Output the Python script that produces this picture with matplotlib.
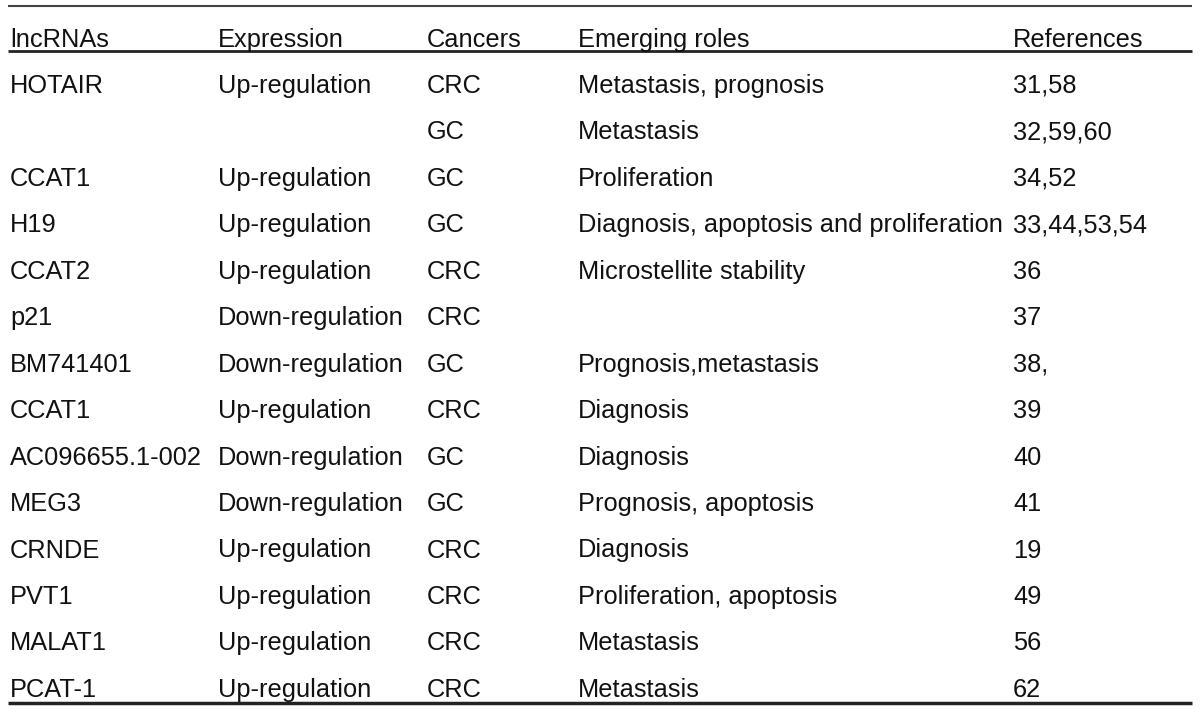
import matplotlib
matplotlib.use('Agg')
import matplotlib.pyplot as plt

plt.rcParams['font.family'] = ['Liberation Sans', 'DejaVu Sans']

headers = ['lncRNAs', 'Expression', 'Cancers', 'Emerging roles', 'References']
lncrnas = ['HOTAIR', '', 'CCAT1', 'H19', 'CCAT2', 'p21', 'BM741401', 'CCAT1',
           'AC096655.1-002', 'MEG3', 'CRNDE', 'PVT1', 'MALAT1', 'PCAT-1']
expression = ['Up-regulation', '', 'Up-regulation', 'Up-regulation', 'Up-regulation',
              'Down-regulation', 'Down-regulation', 'Up-regulation', 'Down-regulation',
              'Down-regulation', 'Up-regulation', 'Up-regulation', 'Up-regulation',
              'Up-regulation']
cancers = ['CRC', 'GC', 'GC', 'GC', 'CRC', 'CRC', 'GC', 'CRC', 'GC', 'GC',
           'CRC', 'CRC', 'CRC', 'CRC']
roles = ['Metastasis, prognosis', 'Metastasis', 'Proliferation',
         'Diagnosis, apoptosis and proliferation', 'Microstellite stability', '',
         'Prognosis,metastasis', 'Diagnosis', 'Diagnosis', 'Prognosis, apoptosis',
         'Diagnosis', 'Proliferation, apoptosis', 'Metastasis', 'Metastasis']
references = ['31,58', '32,59,60', '34,52', '33,44,53,54', '36', '37', '38,', '39',
              '40', '41', '19', '49', '56', '62']

W, H = 1200, 713
fig = plt.figure(figsize=(W / 100, H / 100), dpi=100)
ax = fig.add_axes([0, 0, 1, 1])
ax.set_xlim(0, W)
ax.set_ylim(H, 0)
ax.axis('off')

col_x = [10, 218, 427, 578, 1013]
fs = 18.3
header_base = 47
row0_base = 93
row_step = 46.45

for x, h in zip(col_x, headers):
    ax.text(x, header_base, h, fontsize=fs, va='baseline', ha='left', color='#111111')

columns = [lncrnas, expression, cancers, roles, references]
for i in range(len(lncrnas)):
    y = row0_base + i * row_step
    for x, col in zip(col_x, columns):
        if col[i]:
            ax.text(x, y, col[i], fontsize=fs, va='baseline', ha='left', color='#111111')

ax.plot([8, 1192], [6, 6], color='#444444', lw=1.5, solid_capstyle='butt')
ax.plot([8, 1192], [51, 51], color='#222222', lw=2, solid_capstyle='butt')
ax.plot([8, 1192], [703, 703], color='#222222', lw=2.5, solid_capstyle='butt')

fig.savefig('out.png', dpi=100, facecolor='white')
